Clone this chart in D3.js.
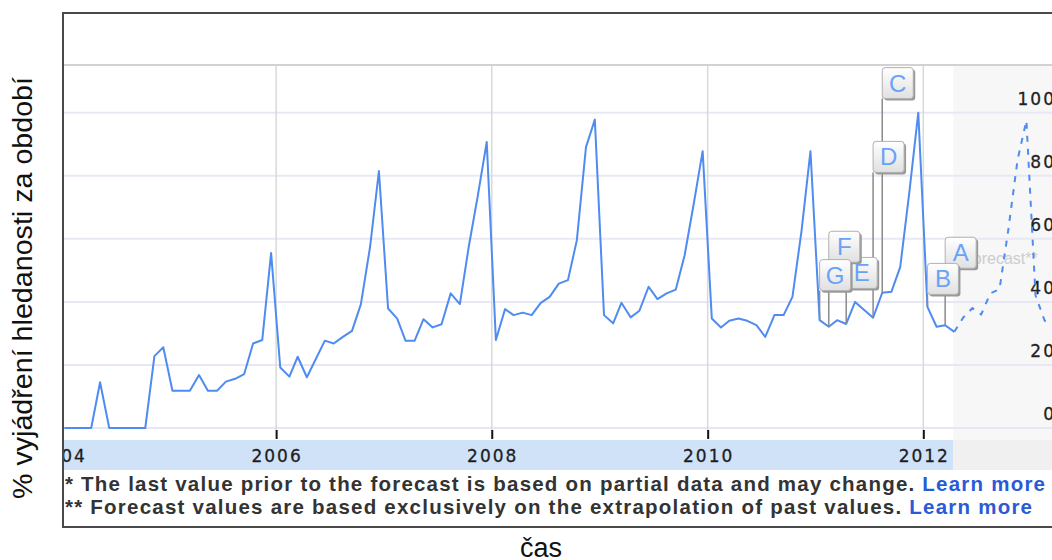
<!DOCTYPE html>
<html><head><meta charset="utf-8">
<script src="https://cdn.jsdelivr.net/npm/d3@7"></script>
<style>body{margin:0;background:#fff} svg{display:block}</style>
</head><body>
<svg id="c" width="1052" height="560"></svg>
<script>
// ---------- data ----------
const startMonth = "2004-01";
const values = [
  0,0,0,0,14.5,0,0,0,0,0,
  22.8,25.6,11.8,11.8,11.8,16.8,11.8,11.8,14.7,15.6,
  17.1,26.8,27.9,55.5,19.2,16.3,22.6,16.1,21.8,27.7,
  26.8,28.9,30.8,39.3,57.4,81.5,37.9,34.7,27.7,27.7,
  34.5,31.9,32.9,42.7,39.3,57.4,73.8,90.7,27.9,37.7,
  35.8,36.6,35.8,39.7,41.6,45.8,46.9,59.5,89.1,97.8,
  35.8,33.2,39.7,35.1,37.2,44.8,40.9,42.7,43.9,54.8,
  71.2,87.8,34.7,31.9,34,34.7,34,32.6,28.9,35.8,
  35.8,41.6,62.7,87.8,34.2,32.1,34.2,33,40,37.4,
  35,42.9,43.2,51.1,75,100,38.4,32.1,32.6,30.5
];
const forecast = [35, 38, 36, 42.7, 44, 63, 85, 97.5, 42, 34, 33];
const yearTicks = [2004, 2006, 2008, 2010, 2012];
const valueTicks = [0, 20, 40, 60, 80, 100];
const flagLetters = ["A","B","C","D","E","F","G"];
const flagMonths  = [98, 96, 91, 90, 87, 85, 84];      // month index of the annotated point
const flagLevels  = [60.5, 52.2, 114.3, 90.9, 54.1, 62.4, 53.4]; // box top, in chart units
const yTitle = "% vyjádření hledanosti za období";
const xTitle = "čas";
const forecastLabel = "Forecast**";
const note1 = ["* The last value prior to the forecast is based on partial data and may change. ", "Learn more"];
const note2 = ["** Forecast values are based exclusively on the extrapolation of past values. ", "Learn more"];

// ---------- scales ----------
const svg = d3.select("#c");
const x = d3.scaleTime().domain([new Date(2004,0,1), new Date(2012,0,1)]).range([60.2, 923.3]);
const y = d3.scaleLinear().domain([0,100]).range([428, 112.7]);
const t0 = d3.timeParse("%Y-%m")(startMonth);
const mid = i => d3.timeDay.offset(d3.timeMonth.offset(t0, i), 14);
const series = values.map((v,i)=>({d:mid(i), v}));
const fc = [series[series.length-1]].concat(forecast.map((v,k)=>({d:mid(values.length+k), v})));

const L = 64, R = 1052, TOP = 14, BOT = 526, PTOP = 65;
const defs = svg.append("defs");
defs.append("clipPath").attr("id","clip").append("rect")
  .attr("x",L).attr("y",TOP).attr("width",R-L+5).attr("height",BOT-TOP);
const grad = defs.append("linearGradient").attr("id","box").attr("x1",0).attr("y1",0).attr("x2",0).attr("y2",1);
grad.append("stop").attr("offset","0%").attr("stop-color","#ffffff");
grad.append("stop").attr("offset","100%").attr("stop-color","#e0e0e0");

const g = svg.append("g").attr("clip-path","url(#clip)");
const xf = x(series[series.length-1].d) - 1;

// forecast background
g.append("rect").attr("x",xf).attr("y",PTOP+1).attr("width",R-xf+5).attr("height",470-PTOP-1).attr("fill","#f7f7f7");
// top line of plot
g.append("line").attr("x1",L).attr("x2",R+5).attr("y1",PTOP).attr("y2",PTOP).attr("stroke","#d2d2d2").attr("stroke-width",2);
// horizontal grid
g.selectAll(".hg").data(valueTicks).join("line")
  .attr("x1",L).attr("x2",R+5).attr("y1",d=>y(d)).attr("y2",d=>y(d))
  .attr("stroke","#e8e8f4").attr("stroke-width",2);
// vertical grid
g.selectAll(".vg").data(yearTicks).join("line")
  .attr("x1",d=>x(new Date(d,0,1))).attr("x2",d=>x(new Date(d,0,1)))
  .attr("y1",PTOP+1).attr("y2",430).attr("stroke","#d6dbd6").attr("stroke-width",1.5);
// x band
g.append("rect").attr("x",L).attr("y",440).attr("width",xf-L).attr("height",30).attr("fill","#d0e2f7");
g.append("rect").attr("x",xf).attr("y",440).attr("width",R-xf+5).attr("height",30).attr("fill","#f0f0f0");
// ticks via axis
const ax = d3.axisBottom(x).tickValues(yearTicks.map(d=>new Date(d,0,1))).tickSize(9).tickFormat("");
const axg = g.append("g").attr("transform","translate(0,430)").call(ax);
axg.select(".domain").remove();
axg.selectAll(".tick line").attr("stroke","#111").attr("stroke-width",2);
// year labels
g.selectAll(".yl").data(yearTicks).join("text")
  .attr("x",d=>x(new Date(d,0,1))+1).attr("y",462)
  .attr("text-anchor","middle").attr("font-family","DejaVu Sans").attr("font-size",17)
  .attr("letter-spacing",2).attr("fill","#1e1e1e").attr("stroke","#1e1e1e").attr("stroke-width",0.3).text(d=>d);

// forecast label
g.append("text").attr("x",963).attr("y",264).attr("font-family","Liberation Sans, Arial").attr("font-size",16)
  .attr("fill","#cdcdcd").text(forecastLabel);

// right labels
g.selectAll(".rl").data(valueTicks).join("text")
  .attr("x",1056).attr("y",d=>y(d)-8).attr("text-anchor","end")
  .attr("font-family","DejaVu Sans").attr("font-size",17).attr("letter-spacing",2)
  .attr("fill","#222").attr("stroke","#222").attr("stroke-width",0.3).text(d=>d);

// line
const line = d3.line().x(d=>x(d.d)).y(d=>y(d.v));
g.append("path").attr("d",line(series)).attr("fill","none").attr("stroke","#4f8bf0")
  .attr("stroke-width",2).attr("stroke-linejoin","round");
g.append("path").attr("d",line(fc)).attr("fill","none").attr("stroke","#4f8bf0")
  .attr("stroke-width",2).attr("stroke-dasharray","6,7");

// flags
const flags = flagLetters.map((l,k)=>({l, d:mid(flagMonths[k]), v:values[flagMonths[k]], top:flagLevels[k]}));
const BS = 31;
g.selectAll(".stem").data(flags).join("line")
  .attr("x1",d=>x(d.d)).attr("x2",d=>x(d.d)).attr("y1",d=>y(d.top)+BS).attr("y2",d=>y(d.v))
  .attr("stroke","#8a8a8a").attr("stroke-width",1.5);
const fg = g.selectAll(".flag").data(flags).join("g").attr("transform",d=>`translate(${x(d.d)},${y(d.top)})`);
fg.append("rect").attr("x",2).attr("y",2).attr("width",BS).attr("height",BS).attr("rx",3).attr("fill","#999");
fg.append("rect").attr("x",0).attr("y",0).attr("width",BS).attr("height",BS).attr("rx",3)
  .attr("fill","url(#box)").attr("stroke","#b0b0b0").attr("stroke-width",1);
fg.append("text").attr("x",BS/2).attr("y",24).attr("text-anchor","middle")
  .attr("font-family","Liberation Sans, Arial").attr("font-size",24)
  .attr("fill","#6aa2f8").text(d=>d.l);

// footnotes
[note1, note2].forEach((n,k)=>{
  const t = g.append("text").attr("x",65).attr("y",[491,514][k])
    .attr("font-family","Liberation Sans, Arial").attr("font-weight","bold").attr("font-size",20.5)
    .attr("textLength",[980,967][k]).attr("lengthAdjust","spacing");
  t.append("tspan").attr("fill","#333").text(n[0]);
  t.append("tspan").attr("fill","#2a5bd6").text(n[1]);
});

// frame
svg.append("rect").attr("x",63).attr("y",13).attr("width",1010).attr("height",514)
  .attr("fill","none").attr("stroke","#4a4a4a").attr("stroke-width",2);

// titles
svg.append("text").attr("transform","translate(32,288) rotate(-90)").attr("text-anchor","middle")
  .attr("font-family","Liberation Sans, Arial").attr("font-size",27).attr("fill","#111")
  .attr("textLength",422).attr("lengthAdjust","spacingAndGlyphs").text(yTitle);
svg.append("text").attr("x",541).attr("y",557).attr("text-anchor","middle")
  .attr("font-family","Liberation Sans, Arial").attr("font-size",27).attr("fill","#111").text(xTitle);
</script>
</body></html>
